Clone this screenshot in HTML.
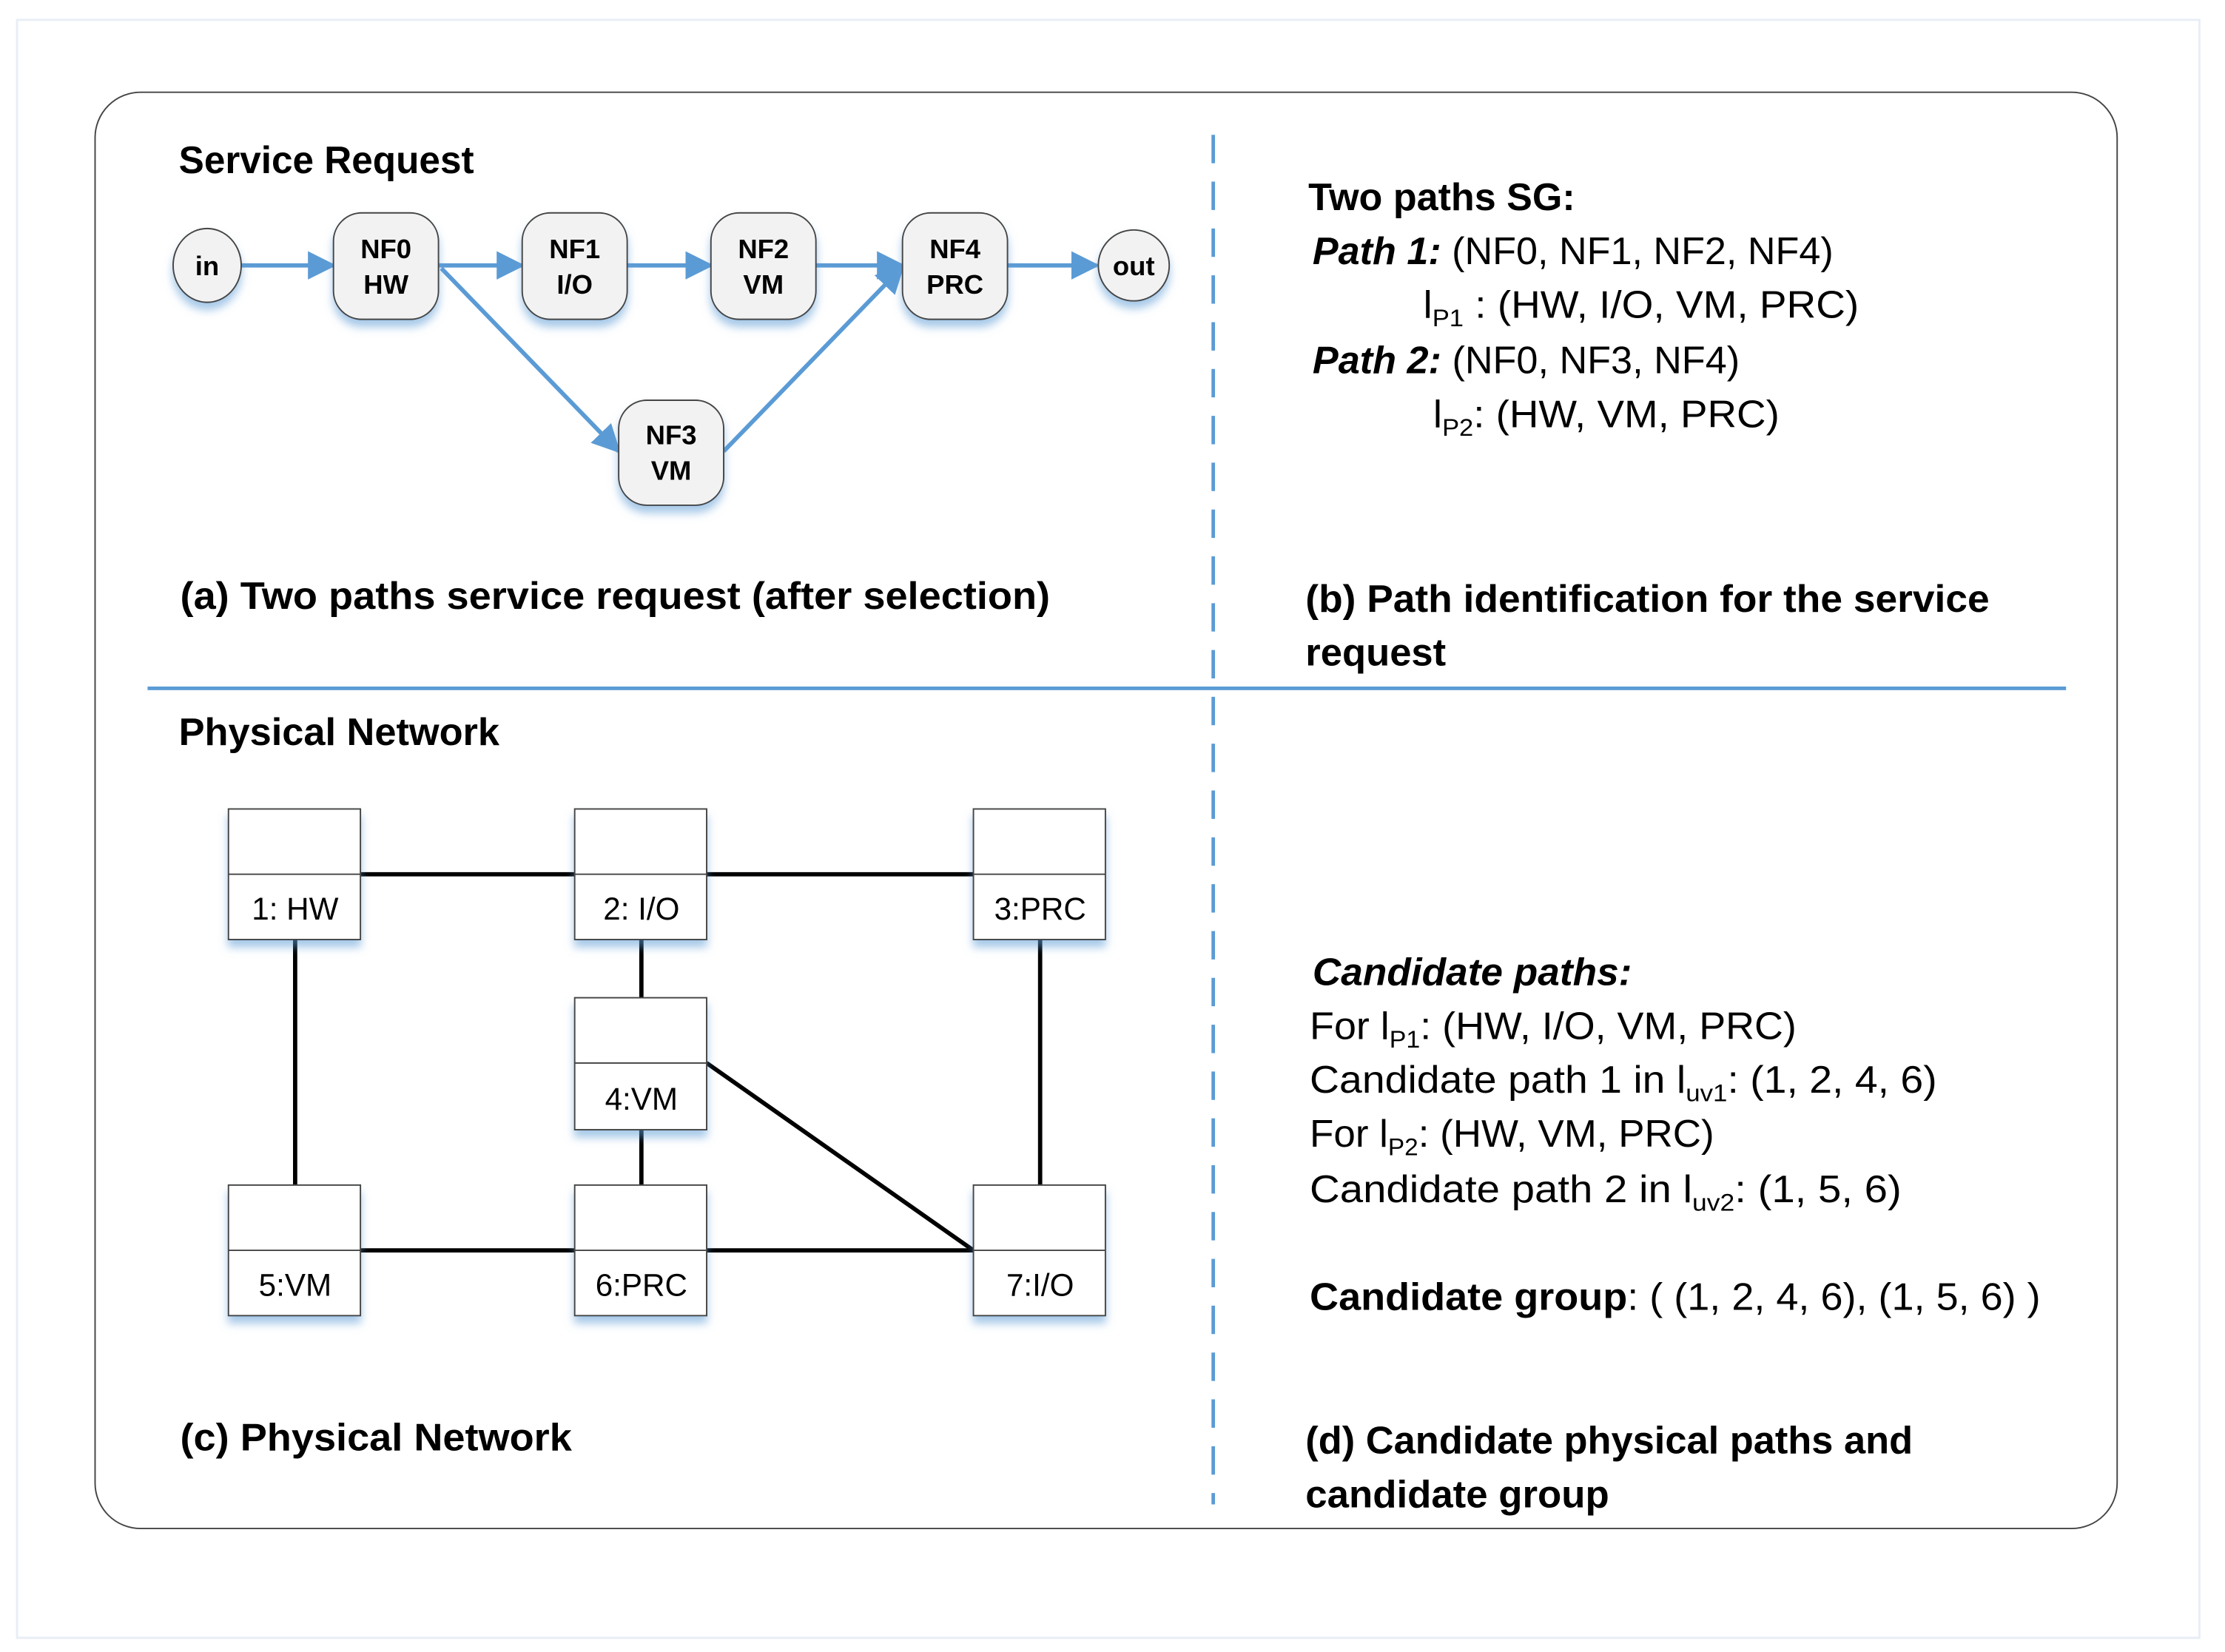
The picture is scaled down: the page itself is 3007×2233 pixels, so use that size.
<!DOCTYPE html>
<html><head><meta charset="utf-8"><style>
html,body{margin:0;padding:0;background:#fff;}
svg{display:block;}
text{font-family:"Liberation Sans",sans-serif;fill:#000;}
.b{font-weight:bold;}
</style></head><body>
<svg width="3007" height="2233" viewBox="0 0 1568 1164" preserveAspectRatio="none" xmlns="http://www.w3.org/2000/svg">
<defs>
<filter id="sh" x="-30%" y="-30%" width="160%" height="170%">
<feDropShadow dx="0" dy="5" stdDeviation="3" flood-color="#5b9bd5" flood-opacity="0.55"/>
</filter>
<marker id="ar2" markerWidth="20" markerHeight="20" refX="18" refY="10" orient="auto" markerUnits="userSpaceOnUse" viewBox="0 0 20 20">
<path d="M0,0 L20,10 L0,20 z" fill="#5b9bd5"/>
</marker>
</defs>
<rect x="12" y="14" width="1538" height="1140" fill="none" stroke="#e8eef5" stroke-width="1.5"/>
<rect x="67" y="65" width="1425" height="1012" rx="32" fill="#fff" stroke="#444" stroke-width="1"/>
<line x1="855" y1="95" x2="855" y2="1060" stroke="#5b9bd5" stroke-width="2.5" stroke-dasharray="20,13"/>
<line x1="104" y1="485" x2="1456" y2="485" stroke="#5b9bd5" stroke-width="2.5"/>

<g stroke="#5b9bd5" stroke-width="3" fill="none" marker-end="url(#ar2)">
<line x1="170" y1="187" x2="235" y2="187"/>
<line x1="309" y1="187" x2="368" y2="187"/>
<line x1="442" y1="187" x2="501" y2="187"/>
<line x1="575" y1="187" x2="636" y2="187"/>
<line x1="710" y1="187" x2="773" y2="187"/>
<line x1="311" y1="189" x2="436" y2="318"/>
<line x1="510" y1="318" x2="636" y2="188"/>
</g>

<g fill="#f2f2f2" stroke="#444" stroke-width="1" filter="url(#sh)">
<ellipse cx="146" cy="187" rx="24" ry="26"/>
<rect x="235" y="150" width="74" height="75" rx="20"/>
<rect x="368" y="150" width="74" height="75" rx="20"/>
<rect x="501" y="150" width="74" height="75" rx="20"/>
<rect x="636" y="150" width="74" height="75" rx="20"/>
<rect x="436" y="282" width="74" height="74" rx="20"/>
<ellipse cx="799" cy="187" rx="25" ry="25"/>
</g>
<g class="b" font-size="19" text-anchor="middle" font-weight="bold">
<text x="146" y="194">in</text>
<text x="272" y="182">NF0</text><text x="272" y="207">HW</text>
<text x="405" y="182">NF1</text><text x="405" y="207">I/O</text>
<text x="538" y="182">NF2</text><text x="538" y="207">VM</text>
<text x="673" y="182">NF4</text><text x="673" y="207">PRC</text>
<text x="473" y="313">NF3</text><text x="473" y="338">VM</text>
<text x="799" y="194">out</text>
</g>

<g stroke="#000" stroke-width="3">
<line x1="254" y1="616" x2="405" y2="616"/>
<line x1="498" y1="616" x2="686" y2="616"/>
<line x1="208" y1="662" x2="208" y2="835"/>
<line x1="452" y1="662" x2="452" y2="703"/>
<line x1="452" y1="796" x2="452" y2="835"/>
<line x1="733" y1="662" x2="733" y2="835"/>
<line x1="254" y1="881" x2="405" y2="881"/>
<line x1="498" y1="881" x2="686" y2="881"/>
<line x1="498" y1="749" x2="686" y2="881"/>
</g>
<g fill="#fff" stroke="#444" stroke-width="1" filter="url(#sh)">
<rect x="161" y="570" width="93" height="92"/>
<rect x="405" y="570" width="93" height="92"/>
<rect x="686" y="570" width="93" height="92"/>
<rect x="405" y="703" width="93" height="93"/>
<rect x="161" y="835" width="93" height="92"/>
<rect x="405" y="835" width="93" height="92"/>
<rect x="686" y="835" width="93" height="92"/>
</g>
<g stroke="#444" stroke-width="1">
<line x1="161" y1="616" x2="254" y2="616"/>
<line x1="405" y1="616" x2="498" y2="616"/>
<line x1="686" y1="616" x2="779" y2="616"/>
<line x1="405" y1="749" x2="498" y2="749"/>
<line x1="161" y1="881" x2="254" y2="881"/>
<line x1="405" y1="881" x2="498" y2="881"/>
<line x1="686" y1="881" x2="779" y2="881"/>
</g>
<g font-size="22" text-anchor="middle">
<text x="208" y="648">1: HW</text>
<text x="452" y="648">2: I/O</text>
<text x="733" y="648">3:PRC</text>
<text x="452" y="782">4:VM</text>
<text x="208" y="913">5:VM</text>
<text x="452" y="913">6:PRC</text>
<text x="733" y="913">7:I/O</text>
</g>

<g font-size="27" font-weight="bold">
<text x="126" y="122" textLength="208" lengthAdjust="spacingAndGlyphs">Service Request</text>
<text x="127" y="429" textLength="613" lengthAdjust="spacingAndGlyphs">(a) Two paths  service request (after selection)</text>
<text x="920" y="431" textLength="482" lengthAdjust="spacingAndGlyphs">(b) Path identification for the service</text>
<text x="920" y="469" textLength="99" lengthAdjust="spacingAndGlyphs">request</text>
<text x="126" y="525" textLength="226" lengthAdjust="spacingAndGlyphs">Physical Network</text>
<text x="127" y="1022" textLength="276" lengthAdjust="spacingAndGlyphs">(c)  Physical Network</text>
<text x="920" y="1024" textLength="428" lengthAdjust="spacingAndGlyphs">(d) Candidate physical paths and</text>
<text x="920" y="1062" textLength="214" lengthAdjust="spacingAndGlyphs">candidate group</text>
<text x="922" y="148" textLength="188" lengthAdjust="spacingAndGlyphs">Two paths SG:</text>
</g>
<g font-size="27">
<text x="925" y="186" textLength="367" lengthAdjust="spacingAndGlyphs"><tspan font-weight="bold" font-style="italic">Path 1:</tspan> (NF0, NF1, NF2, NF4)</text>
<text x="1003" y="224" textLength="307" lengthAdjust="spacingAndGlyphs">l<tspan font-size="17" dy="6">P1</tspan><tspan dy="-6"> :  (HW, I/O, VM, PRC)</tspan></text>
<text x="925" y="263" textLength="301" lengthAdjust="spacingAndGlyphs"><tspan font-weight="bold" font-style="italic">Path 2:</tspan> (NF0, NF3, NF4)</text>
<text x="1010" y="301" textLength="244" lengthAdjust="spacingAndGlyphs">l<tspan font-size="17" dy="6">P2</tspan><tspan dy="-6">:  (HW, VM, PRC)</tspan></text>
<text x="925" y="694" textLength="225" lengthAdjust="spacingAndGlyphs" font-weight="bold" font-style="italic">Candidate paths:</text>
<text x="923" y="732" textLength="343" lengthAdjust="spacingAndGlyphs">For l<tspan font-size="17" dy="6">P1</tspan><tspan dy="-6">: (HW, I/O, VM, PRC)</tspan></text>
<text x="923" y="770" textLength="442" lengthAdjust="spacingAndGlyphs">Candidate path 1 in l<tspan font-size="17" dy="6">uv1</tspan><tspan dy="-6">: (1, 2, 4, 6)</tspan></text>
<text x="923" y="808" textLength="285" lengthAdjust="spacingAndGlyphs">For l<tspan font-size="17" dy="6">P2</tspan><tspan dy="-6">: (HW, VM, PRC)</tspan></text>
<text x="923" y="847" textLength="417" lengthAdjust="spacingAndGlyphs">Candidate path 2 in l<tspan font-size="17" dy="6">uv2</tspan><tspan dy="-6">:  (1, 5, 6)</tspan></text>
<text x="923" y="923" textLength="515" lengthAdjust="spacingAndGlyphs"><tspan font-weight="bold">Candidate group</tspan>: ( (1, 2, 4, 6),  (1, 5, 6) )</text>
</g>
</svg>
</body></html>
